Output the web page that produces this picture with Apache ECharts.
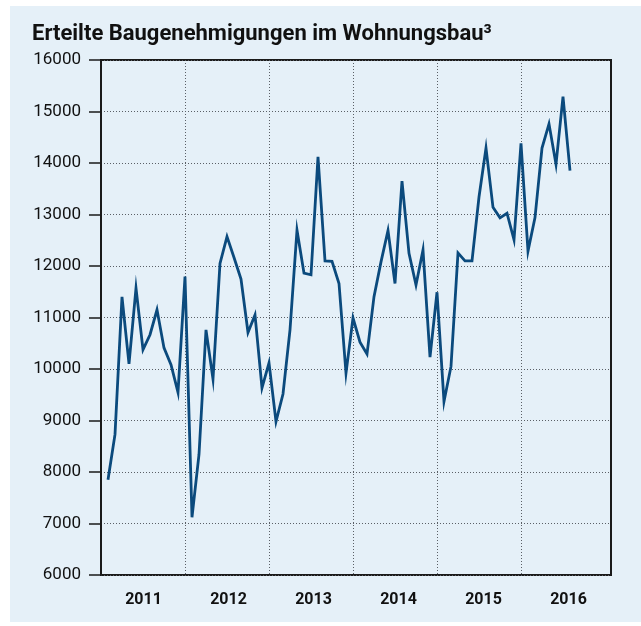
<!DOCTYPE html>
<html>
	<head>
		<meta charset="UTF-8">
		<title>Baugenehmigungen</title>
		<style>
			body { margin: 0; background: #fff; }
			.panel { position: absolute; left: 10px; top: 6px; right: 0; bottom: 4px; background: #e5f0f8; }
			#chart { position: absolute; left: 0; top: 0; width: 641px; height: 626px; }
		</style>
	</head>
	<body>
		<div class="panel"></div>
		<div id="chart"></div>

		<script type="text/javascript" src="https://cdn.jsdelivr.net/npm/echarts@6/dist/echarts.min.js"></script>
		<script type="text/javascript">
			// Jahre (Achsenbeschriftung)
			var years = ['2011', '2012', '2013', '2014', '2015', '2016'];
			// Monatswerte je Jahr (Jan..Dez)
			var v2011 = [7850, 8730, 11400, 10100, 11570, 10375, 10665, 11150, 10410, 10085, 9545, 11795];
			var v2012 = [7120, 8340, 10760, 9805, 12050, 12570, 12165, 11745, 10710, 11050, 9635, 10120];
			var v2013 = [8980, 9515, 10760, 12695, 11860, 11830, 14120, 12100, 12090, 11660, 9920, 10990];
			var v2014 = [10520, 10290, 11405, 12080, 12690, 11660, 13650, 12245, 11630, 12310, 10230, 11490];
			var v2015 = [9370, 10050, 12255, 12100, 12100, 13340, 14290, 13140, 12935, 13025, 12510, 14380];
			var v2016 = [12290, 12940, 14290, 14760, 13975, 15290, 13850];

			var values = [].concat(v2011, v2012, v2013, v2014, v2015, v2016);
			// x = Monat seit Dez 2010
			var points = values.map(function(v, i) { return [i + 1, v]; });

			var gridCol = '#5a5f66';
			var chart = echarts.init(document.getElementById('chart'));

			var option = {
				animation: false,
				title: {
					text: 'Erteilte Baugenehmigungen im Wohnungsbau³',
					left: 27,
					top: 18,
					textStyle: { fontFamily: 'Roboto', fontWeight: 'bold', fontSize: 22, color: '#111' }
				},
				grid: {
					left: 101,
					top: 60,
					width: 510,
					height: 515,
					show: true,
					borderColor: '#1a1a1a',
					borderWidth: 2,
					backgroundColor: 'transparent'
				},
				xAxis: [
					{
						type: 'value',
						min: 0,
						max: 510 / 7,
						interval: 12,
						axisLine: { show: false },
						axisTick: { show: false },
						axisLabel: { show: false },
						splitLine: {
							show: true,
							lineStyle: {
								type: [1, 2],
								width: 1,
								color: ['transparent', gridCol, gridCol, gridCol, gridCol, gridCol, 'transparent', 'transparent']
							}
						}
					},
					{
						type: 'category',
						position: 'bottom',
						data: years,
						boundaryGap: true,
						axisLine: { show: false },
						axisTick: { show: false },
						splitLine: { show: false },
						axisLabel: {
							margin: 17,
							fontFamily: 'Roboto',
							fontWeight: 'bold',
							fontSize: 16,
							color: '#111'
						}
					}
				],
				yAxis: {
					type: 'value',
					min: 6000,
					max: 16000,
					interval: 1000,
					axisLine: { show: true, lineStyle: { color: '#1a1a1a', width: 2 } },
					axisTick: { show: true, length: 12, lineStyle: { color: '#1a1a1a', width: 1.5 } },
					axisLabel: {
						margin: 20,
						fontFamily: 'Roboto',
						fontSize: 17,
						color: '#111',
						formatter: function(v) { return String(v); }
					},
					splitLine: {
						show: true,
						lineStyle: { type: [1, 2], width: 1, color: gridCol }
					}
				},
				series: [
					{
						type: 'line',
						xAxisIndex: 0,
						data: points,
						symbol: 'none',
						lineStyle: { color: '#0b4a7d', width: 2.8, join: 'miter' }
					}
				]
			};

			chart.setOption(option);
		</script>
	</body>
</html>
